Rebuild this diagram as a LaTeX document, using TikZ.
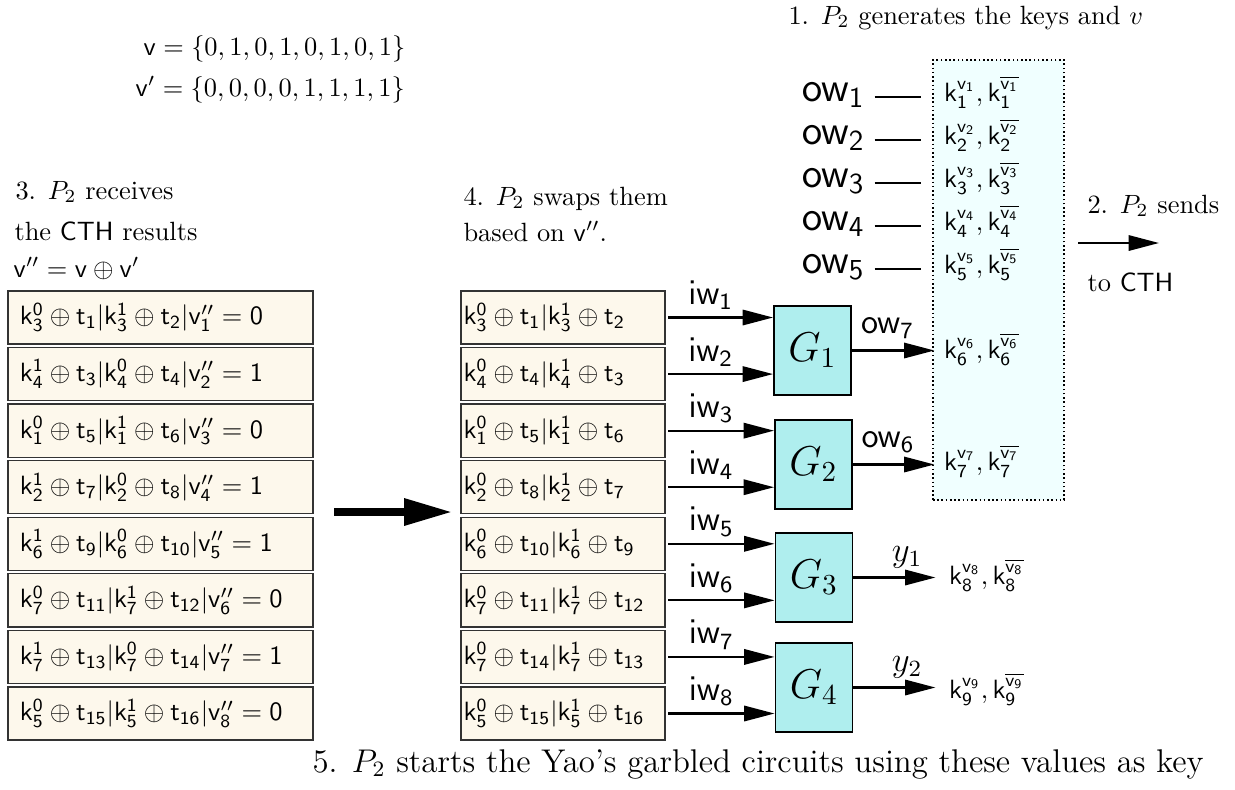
\documentclass[tikz,border=0pt]{standalone}
\usepackage{amsmath}
\usepackage{graphicx}
\usetikzlibrary{arrows.meta}
\definecolor{sharefill}{HTML}{FDF8EC}
\definecolor{gatefill}{HTML}{AFEEEE}
\definecolor{keyfill}{HTML}{F0FFFF}
% enlarged label text
\newcommand{\midtxt}[1]{\scalebox{1.1}{\large #1}}
\newcommand{\bigtxt}[1]{\scalebox{1.097}{\Large #1}}
\begin{document}
\begin{tikzpicture}[x=0.3788pt, y=-0.3788pt,
  share/.style={draw=black!80, line width=0.5pt, fill=sharefill, minimum height=20.1pt, inner ysep=0pt, align=left},
  leftshare/.style={share, text width=106.5pt, inner xsep=4.5pt},
  midshare/.style={share, text width=75.3pt, inner xsep=1pt},
  gate/.style={draw, line width=0.7pt, fill=gatefill, minimum width=29.2pt, minimum height=33.7pt, inner sep=0pt},
  wire/.style={line width=0.85pt, -{Triangle[length=11.5pt,width=5.8pt]}},
  bigwire/.style={line width=3.3pt, -{Triangle[length=18.5pt,width=9.5pt]}},
  wlabel/.style={inner sep=1pt},
  owlabel/.style={inner sep=1pt},
  keytxt/.style={inner sep=1pt},
  keybox/.style={draw, densely dotted, line width=0.6pt, fill=keyfill, minimum width=49.6pt, minimum height=166.7pt, inner sep=0pt},
  tick/.style={line width=0.75pt},
  note/.style={inner sep=0pt},
]
\useasboundingbox (0,0) rectangle (1235,789);

% the two bit vectors
\node[note, anchor=base west] (vv) at (143,55) {$\mathsf{v} = \{0,1,0,1,0,1,0,1\}$};
\node[note, anchor=base west] (vp) at (135,96) {$\mathsf{v}' = \{0,0,0,0,1,1,1,1\}$};

% step captions
\node[note, anchor=base west] (s1) at (788,24) {1. $P_2$ generates the keys and $v$};
\node[note, anchor=base west] (s2a) at (1087,213) {2. $P_2$ sends};
\node[note, anchor=base west] (s2b) at (1087,291) {to \textsf{CTH}};
\node[note, anchor=base west] (s3a) at (15,199) {3. $P_2$ receives};
\node[note, anchor=base west] (s3b) at (14,240) {the \textsf{CTH} results};
\node[note, anchor=base west] (s3c) at (13,277) {$\mathsf{v}''=\mathsf{v}\oplus\mathsf{v}'$};
\node[note, anchor=base west] (s4a) at (463,205) {4. $P_2$ swaps them};
\node[note, anchor=base west] (s4b) at (463,241) {based on $\mathsf{v}''$.};
\node[note, anchor=base west] (s5) at (312,772) {\scalebox{1.037}{\large 5. $P_2$ starts the Yao’s garbled circuits using these values as key}};

% shares returned by the CTH
\foreach \i/\txt in {
  1/{k_3^0\oplus t_1|k_3^1\oplus t_2|v''_1=0},
  2/{k_4^1\oplus t_3|k_4^0\oplus t_4|v''_2=1},
  3/{k_1^0\oplus t_5|k_1^1\oplus t_6|v''_3=0},
  4/{k_2^1\oplus t_7|k_2^0\oplus t_8|v''_4=1},
  5/{k_6^1\oplus t_9|k_6^0\oplus t_{10}|v''_5=1},
  6/{k_7^0\oplus t_{11}|k_7^1\oplus t_{12}|v''_6=0},
  7/{k_7^1\oplus t_{13}|k_7^0\oplus t_{14}|v''_7=1},
  8/{k_5^0\oplus t_{15}|k_5^1\oplus t_{16}|v''_8=0}}
  \node[leftshare] (l\i) at (160.5,{317.5+(\i-1)*56.57}) {$\mathsf{\txt}$};

% shares after swapping
\foreach \i/\txt in {
  1/{k_3^0\oplus t_1|k_3^1\oplus t_2},
  2/{k_4^0\oplus t_4|k_4^1\oplus t_3},
  3/{k_1^0\oplus t_5|k_1^1\oplus t_6},
  4/{k_2^0\oplus t_8|k_2^1\oplus t_7},
  5/{k_6^0\oplus t_{10}|k_6^1\oplus t_9},
  6/{k_7^0\oplus t_{11}|k_7^1\oplus t_{12}},
  7/{k_7^0\oplus t_{14}|k_7^1\oplus t_{13}},
  8/{k_5^0\oplus t_{15}|k_5^1\oplus t_{16}}}
  \node[midshare] (m\i) at (563,{317.5+(\i-1)*56.57}) {$\mathsf{\txt}$};

% swap arrow
\coordinate (ba) at (334,512);
\coordinate (bb) at (453,512);
\draw[bigwire] (ba) -- (bb);

% key column
\node[keybox] (keys) at (998.5,280) {};
\foreach \i in {1,...,5}{
  \node[owlabel, anchor=base east] (ow\i) at (868,{101+(\i-1)*43}) {\bigtxt{$\mathsf{ow_\i}$}};
  \node[keytxt, anchor=base west] (k\i) at (941,{101+(\i-1)*43}) {$\mathsf{k_\i^{v_\i}, k_\i^{\overline{v_\i}}}$};
  \draw[tick, shorten <=2.5pt, shorten >=7.7pt] ([yshift=1.7pt]ow\i.base east) -- ([yshift=1.7pt]k\i.base west);
}
\node[keytxt, anchor=base west] (k6) at (941,358) {$\mathsf{k_6^{v_6}, k_6^{\overline{v_6}}}$};
\node[keytxt, anchor=base west] (k7) at (941,470) {$\mathsf{k_7^{v_7}, k_7^{\overline{v_7}}}$};
\node[keytxt, anchor=base west] (k8) at (946,584) {$\mathsf{k_8^{v_8}, k_8^{\overline{v_8}}}$};
\node[keytxt, anchor=base west] (k9) at (946,698) {$\mathsf{k_9^{v_9}, k_9^{\overline{v_9}}}$};

% garbled gates
\node[gate] (g1) at (812.5,350.5) {\bigtxt{$G_1$}};
\node[gate] (g2) at (813.5,464.5) {\bigtxt{$G_2$}};
\node[gate] (g3) at (814,577.5) {\bigtxt{$G_3$}};
\node[gate] (g4) at (814,687.5) {\bigtxt{$G_4$}};

% input wires
\foreach \i/\g in {1/1,2/1,3/2,4/2,5/3,6/3,7/4,8/4}
  \draw[wire, shorten <=1pt] (m\i.east) -- (m\i.east -| g\g.west) node[wlabel, above=1.5pt, pos=0.42] {\midtxt{$\mathsf{iw_\i}$}};

% output wires
\draw[wire, shorten >=2.5pt] (g1.east) -- (g1.east -| k6.west) node[wlabel, above=3pt, pos=0.4] {\midtxt{$\mathsf{ow_7}$}};
\draw[wire, shorten >=2.5pt] (g2.east) -- (g2.east -| k7.west) node[wlabel, above=3pt, pos=0.4] {\midtxt{$\mathsf{ow_6}$}};
\draw[wire, shorten >=4pt] (g3.east) -- (g3.east -| k8.west) node[wlabel, above=2pt, pos=0.58] {\midtxt{$y_1$}};
\draw[wire, shorten >=4pt] (g4.east) -- (g4.east -| k9.west) node[wlabel, above=2pt, pos=0.58] {\midtxt{$y_2$}};

% sending to the CTH
\coordinate (sa) at (1078,243);
\coordinate (sb) at (1159,243);
\draw[wire] (sa) -- (sb);
\end{tikzpicture}
\end{document}
